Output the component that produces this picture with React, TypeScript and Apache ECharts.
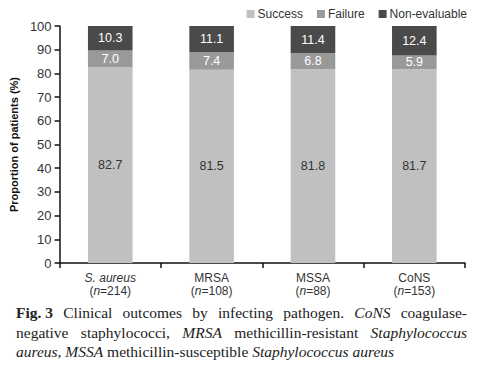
import React, { useEffect, useRef } from "react";
import * as echarts from "echarts";

const categories = ["S. aureus", "MRSA", "MSSA", "CoNS"];
const sampleSizes = [214, 108, 88, 153];
const success = [82.7, 81.5, 81.8, 81.7];
const failure = [7.0, 7.4, 6.8, 5.9];
const nonEvaluable = [10.3, 11.1, 11.4, 12.4];
const yTicks = [0, 10, 20, 30, 40, 50, 60, 70, 80, 90, 100];

const SANS = "'Liberation Sans', Arial, sans-serif";
const SERIF = "'Liberation Serif', 'Times New Roman', serif";

// caption words per line: [text, style] ; b = bold, r = regular, i = italic
const captionLines: [string, string][][] = [
  [
    ["Fig. 3", "b"],
    ["Clinical", "r"],
    ["outcomes", "r"],
    ["by", "r"],
    ["infecting", "r"],
    ["pathogen.", "r"],
    ["CoNS", "i"],
    ["coagulase-", "r"],
  ],
  [
    ["negative", "r"],
    ["staphylococci,", "r"],
    ["MRSA", "i"],
    ["methicillin-resistant", "r"],
    ["Staphylococcus", "i"],
  ],
  [
    ["aureus", "i"],
    [",", "r"],
    [" ", "r"],
    ["MSSA", "i"],
    [" methicillin-susceptible ", "r"],
    ["Staphylococcus aureus", "i"],
  ],
];
const captionJustified = [true, true, false];
const captionTops = [304, 324, 343];
const CAP_LEFT = 16;
const CAP_RIGHT = 467;
const CAP_SIZE = 15.5;

function fontStr(s: string) {
  return `${s === "i" ? "italic " : ""}${s === "b" ? "bold " : ""}${CAP_SIZE}px ${SERIF}`;
}

export default function App() {
  const ref = useRef<HTMLDivElement>(null);
  useEffect(() => {
    const chart = echarts.init(ref.current!, null, { renderer: "svg" });
    const mkSeries = (name: string, data: number[], color: string, labelColor: string) => ({
      name,
      type: "bar",
      stack: "total",
      data,
      barWidth: "44%",
      itemStyle: { color },
      label: {
        show: true,
        position: "inside",
        color: labelColor,
        fontFamily: SANS,
        fontSize: 12.5,
        formatter: (p: any) => Number(p.value).toFixed(1),
      },
    });

    const canvas = document.createElement("canvas");
    const ctx = canvas.getContext("2d")!;
    const measure = (t: string, s: string) => {
      ctx.font = fontStr(s);
      return ctx.measureText(t).width;
    };

    const graphic: any[] = [];
    captionLines.forEach((line, li) => {
      const widths = line.map(([t, s]) => measure(t, s));
      let gap = 0;
      if (captionJustified[li]) {
        const total = widths.reduce((a, b) => a + b, 0);
        gap = (CAP_RIGHT - CAP_LEFT - total) / (line.length - 1);
      }
      let x = CAP_LEFT;
      line.forEach(([t, s], wi) => {
        if (t.trim() !== "") {
          graphic.push({
            type: "text",
            x,
            y: captionTops[li],
            style: {
              text: t.trim(),
              x: t.startsWith(" ") ? measure(" ", s) : 0,
              fontFamily: SERIF,
              fontSize: CAP_SIZE,
              fontWeight: s === "b" ? "bold" : "normal",
              fontStyle: s === "i" ? "italic" : "normal",
              fill: "#222",
              textVerticalAlign: "top",
            },
          });
        }
        x += widths[wi] + gap;
      });
    });

    chart.setOption({
      animation: false,
      textStyle: { fontFamily: SANS },
      legend: {
        right: 28,
        top: 3,
        itemWidth: 8,
        itemHeight: 8,
        itemGap: 14,
        icon: "rect",
        textStyle: { fontFamily: SANS, fontSize: 12, color: "#333", padding: [0, 0, 0, -2] },
        data: ["Success", "Failure", "Non-evaluable"],
      },
      grid: { left: 58, top: 26, right: 35, bottom: 103 },
      xAxis: {
        type: "category",
        data: categories,
        axisLine: { lineStyle: { color: "#111", width: 1.5 } },
        axisTick: { show: true, length: 5, lineStyle: { color: "#111", width: 1.5 } },
        axisLabel: {
          interval: 0,
          margin: 8,
          lineHeight: 13,
          fontSize: 12,
          color: "#333",
          formatter: (v: string, i: number) => {
            const n = sampleSizes[i];
            const head = v === "S. aureus" ? `{it|${v}}` : `{n|${v}}`;
            return `${head}\n{n|(}{it|n}{n|=${n})}`;
          },
          rich: {
            it: { fontStyle: "italic", fontSize: 12, color: "#333", fontFamily: SANS, lineHeight: 13 },
            n: { fontSize: 12, color: "#333", fontFamily: SANS, lineHeight: 13 },
          },
        },
      },
      yAxis: {
        type: "value",
        min: 0,
        max: 100,
        interval: 10,
        name: "Proportion of patients (%)",
        nameLocation: "middle",
        nameGap: 30,
        nameTextStyle: { fontWeight: "bold", fontSize: 11, color: "#111", fontFamily: SANS },
        axisLine: { show: true, lineStyle: { color: "#111", width: 1.5 } },
        axisTick: { show: true, length: 5, lineStyle: { color: "#111", width: 1.5 } },
        splitLine: { show: false },
        axisLabel: {
          fontSize: 13,
          color: "#333",
          margin: 8,
          formatter: (v: number) => (yTicks.includes(v) ? String(v) : ""),
        },
      },
      series: [
        mkSeries("Success", success, "#c0c0c0", "#333"),
        mkSeries("Failure", failure, "#999999", "#ffffff"),
        mkSeries("Non-evaluable", nonEvaluable, "#4a4a4a", "#ffffff"),
      ],
      graphic,
    });
    return () => chart.dispose();
  }, []);
  return <div ref={ref} style={{ width: 500, height: 366, position: "absolute", left: 0, top: 0 }} />;
}
